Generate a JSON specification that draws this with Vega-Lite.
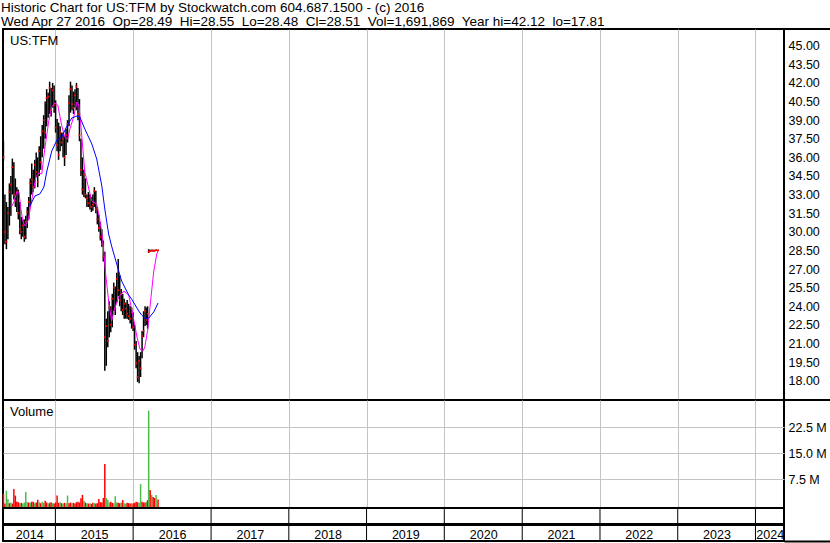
{
  "$schema": "https://vega.github.io/schema/vega-lite/v6.json",
  "background": "white",
  "padding": {"left": 1, "top": 1, "right": 1, "bottom": 1},
  "title": {
    "text": ["Historic Chart for US:TFM by Stockwatch.com 604.687.1500 - (c) 2016", "Wed Apr 27 2016\u00a0 Op=28.49\u00a0 Hi=28.55\u00a0 Lo=28.48\u00a0 Cl=28.51\u00a0 Vol=1,691,869\u00a0 Year hi=42.12\u00a0 lo=17.81"],
    "anchor": "start", "frame": "bounds", "font": "Liberation Sans", "fontSize": 13.5, "fontWeight": "normal", "lineHeight": 13.5, "color": "black", "offset": 0
  },
  "datasets": {
    "bars": [
      {"d":"2014-05-02","h":37.3,"l":35.7,"c":36.0,"v":3.3,"dir":"down"},
      {"d":"2014-05-09","h":33.0,"l":29.0,"c":30.0,"v":0.5,"dir":"down"},
      {"d":"2014-05-16","h":32.4,"l":28.6,"c":29.2,"v":4.2,"dir":"up"},
      {"d":"2014-05-23","h":32.0,"l":29.4,"c":31.5,"v":1.8,"dir":"up"},
      {"d":"2014-05-30","h":33.9,"l":30.5,"c":33.2,"v":0.6,"dir":"down"},
      {"d":"2014-06-06","h":34.5,"l":31.3,"c":33.8,"v":0.8,"dir":"up"},
      {"d":"2014-06-13","h":35.9,"l":33.0,"c":35.2,"v":0.5,"dir":"down"},
      {"d":"2014-06-20","h":35.6,"l":32.6,"c":33.0,"v":4.7,"dir":"down"},
      {"d":"2014-06-27","h":34.3,"l":32.0,"c":32.5,"v":2.8,"dir":"down"},
      {"d":"2014-07-04","h":33.6,"l":31.6,"c":33.2,"v":1.0,"dir":"down"},
      {"d":"2014-07-11","h":33.4,"l":31.0,"c":31.5,"v":0.9,"dir":"down"},
      {"d":"2014-07-18","h":32.4,"l":29.8,"c":30.2,"v":0.6,"dir":"up"},
      {"d":"2014-07-25","h":31.2,"l":29.4,"c":30.0,"v":0.7,"dir":"down"},
      {"d":"2014-08-01","h":31.0,"l":29.6,"c":30.5,"v":0.5,"dir":"up"},
      {"d":"2014-08-08","h":31.0,"l":29.2,"c":29.6,"v":0.8,"dir":"up"},
      {"d":"2014-08-15","h":31.3,"l":29.4,"c":30.8,"v":3.8,"dir":"up"},
      {"d":"2014-08-22","h":32.0,"l":30.3,"c":31.6,"v":0.9,"dir":"up"},
      {"d":"2014-08-29","h":32.8,"l":31.0,"c":32.4,"v":0.8,"dir":"down"},
      {"d":"2014-09-05","h":34.3,"l":32.0,"c":33.9,"v":0.7,"dir":"up"},
      {"d":"2014-09-12","h":35.5,"l":33.0,"c":34.2,"v":1.0,"dir":"down"},
      {"d":"2014-09-19","h":35.0,"l":33.2,"c":33.6,"v":1.0,"dir":"down"},
      {"d":"2014-09-26","h":35.8,"l":33.5,"c":35.4,"v":0.6,"dir":"up"},
      {"d":"2014-10-03","h":36.4,"l":34.4,"c":34.8,"v":0.8,"dir":"down"},
      {"d":"2014-10-10","h":36.0,"l":33.6,"c":34.0,"v":1.6,"dir":"down"},
      {"d":"2014-10-17","h":36.9,"l":34.5,"c":36.5,"v":0.9,"dir":"up"},
      {"d":"2014-10-24","h":37.7,"l":35.0,"c":35.6,"v":0.6,"dir":"down"},
      {"d":"2014-10-31","h":38.6,"l":36.0,"c":38.1,"v":1.0,"dir":"up"},
      {"d":"2014-11-07","h":39.4,"l":36.7,"c":39.0,"v":0.7,"dir":"up"},
      {"d":"2014-11-14","h":40.5,"l":37.5,"c":38.0,"v":1.3,"dir":"down"},
      {"d":"2014-11-21","h":41.5,"l":38.5,"c":40.8,"v":0.8,"dir":"down"},
      {"d":"2014-11-28","h":41.2,"l":39.2,"c":40.9,"v":0.5,"dir":"up"},
      {"d":"2014-12-05","h":42.1,"l":39.5,"c":41.6,"v":0.7,"dir":"down"},
      {"d":"2014-12-12","h":41.6,"l":39.3,"c":39.8,"v":0.9,"dir":"down"},
      {"d":"2014-12-19","h":42.0,"l":40.0,"c":41.4,"v":0.6,"dir":"up"},
      {"d":"2014-12-26","h":41.8,"l":39.6,"c":40.2,"v":0.5,"dir":"down"},
      {"d":"2015-01-02","h":40.6,"l":38.0,"c":38.4,"v":0.8,"dir":"down"},
      {"d":"2015-01-09","h":39.1,"l":36.5,"c":37.0,"v":2.8,"dir":"down"},
      {"d":"2015-01-16","h":38.8,"l":35.8,"c":36.2,"v":0.7,"dir":"down"},
      {"d":"2015-01-23","h":38.5,"l":36.5,"c":38.0,"v":0.9,"dir":"up"},
      {"d":"2015-01-30","h":38.0,"l":36.9,"c":37.2,"v":0.6,"dir":"down"},
      {"d":"2015-02-06","h":38.0,"l":36.0,"c":37.5,"v":0.5,"dir":"up"},
      {"d":"2015-02-13","h":37.7,"l":35.3,"c":36.0,"v":0.7,"dir":"down"},
      {"d":"2015-02-20","h":38.3,"l":36.2,"c":37.8,"v":0.6,"dir":"up"},
      {"d":"2015-02-27","h":39.0,"l":37.2,"c":38.7,"v":2.8,"dir":"up"},
      {"d":"2015-03-06","h":41.0,"l":38.5,"c":40.4,"v":0.6,"dir":"down"},
      {"d":"2015-03-13","h":42.1,"l":39.6,"c":41.5,"v":0.8,"dir":"down"},
      {"d":"2015-03-20","h":41.8,"l":39.8,"c":40.3,"v":0.6,"dir":"up"},
      {"d":"2015-03-27","h":41.3,"l":39.5,"c":40.0,"v":0.7,"dir":"down"},
      {"d":"2015-04-03","h":41.5,"l":40.0,"c":41.0,"v":0.5,"dir":"down"},
      {"d":"2015-04-10","h":42.0,"l":39.8,"c":41.7,"v":0.9,"dir":"down"},
      {"d":"2015-04-17","h":41.6,"l":39.0,"c":39.5,"v":1.0,"dir":"down"},
      {"d":"2015-04-24","h":40.7,"l":37.3,"c":37.8,"v":0.8,"dir":"down"},
      {"d":"2015-05-01","h":37.5,"l":34.5,"c":35.0,"v":2.0,"dir":"down"},
      {"d":"2015-05-08","h":36.0,"l":33.0,"c":33.4,"v":3.0,"dir":"down"},
      {"d":"2015-05-15","h":35.0,"l":32.8,"c":34.6,"v":1.3,"dir":"up"},
      {"d":"2015-05-22","h":34.3,"l":32.7,"c":33.0,"v":0.8,"dir":"down"},
      {"d":"2015-05-29","h":33.0,"l":32.0,"c":32.7,"v":0.6,"dir":"up"},
      {"d":"2015-06-05","h":33.2,"l":32.0,"c":32.3,"v":0.5,"dir":"down"},
      {"d":"2015-06-12","h":33.0,"l":31.8,"c":32.8,"v":0.6,"dir":"up"},
      {"d":"2015-06-19","h":32.8,"l":31.6,"c":32.0,"v":0.4,"dir":"down"},
      {"d":"2015-06-26","h":33.0,"l":31.7,"c":32.2,"v":0.7,"dir":"down"},
      {"d":"2015-07-03","h":33.6,"l":32.0,"c":33.3,"v":0.6,"dir":"up"},
      {"d":"2015-07-10","h":33.3,"l":31.5,"c":31.8,"v":0.5,"dir":"down"},
      {"d":"2015-07-17","h":32.0,"l":30.6,"c":31.0,"v":0.6,"dir":"down"},
      {"d":"2015-07-24","h":31.4,"l":30.0,"c":30.3,"v":1.8,"dir":"down"},
      {"d":"2015-07-31","h":30.8,"l":29.3,"c":29.6,"v":0.9,"dir":"down"},
      {"d":"2015-08-07","h":30.2,"l":28.8,"c":29.0,"v":0.8,"dir":"down"},
      {"d":"2015-08-14","h":29.3,"l":27.6,"c":28.0,"v":2.1,"dir":"down"},
      {"d":"2015-08-21","h":28.4,"l":18.8,"c":21.5,"v":11.9,"dir":"down"},
      {"d":"2015-08-28","h":23.0,"l":19.2,"c":22.4,"v":2.1,"dir":"up"},
      {"d":"2015-09-04","h":23.6,"l":20.7,"c":21.2,"v":1.5,"dir":"up"},
      {"d":"2015-09-11","h":24.4,"l":21.5,"c":23.9,"v":0.8,"dir":"up"},
      {"d":"2015-09-18","h":24.0,"l":21.9,"c":22.5,"v":1.0,"dir":"down"},
      {"d":"2015-09-25","h":25.0,"l":22.3,"c":24.6,"v":0.7,"dir":"down"},
      {"d":"2015-10-02","h":25.9,"l":23.6,"c":25.5,"v":0.6,"dir":"up"},
      {"d":"2015-10-09","h":25.6,"l":23.3,"c":23.8,"v":2.6,"dir":"up"},
      {"d":"2015-10-16","h":26.7,"l":24.3,"c":26.2,"v":0.8,"dir":"up"},
      {"d":"2015-10-23","h":27.8,"l":24.8,"c":25.3,"v":0.7,"dir":"down"},
      {"d":"2015-10-30","h":26.5,"l":24.0,"c":24.5,"v":0.6,"dir":"down"},
      {"d":"2015-11-06","h":25.4,"l":23.6,"c":25.0,"v":0.8,"dir":"up"},
      {"d":"2015-11-13","h":25.0,"l":23.3,"c":23.7,"v":1.5,"dir":"down"},
      {"d":"2015-11-20","h":24.6,"l":23.0,"c":24.2,"v":0.6,"dir":"up"},
      {"d":"2015-11-27","h":24.3,"l":23.0,"c":23.8,"v":0.5,"dir":"up"},
      {"d":"2015-12-04","h":24.5,"l":23.0,"c":23.4,"v":0.7,"dir":"down"},
      {"d":"2015-12-11","h":24.2,"l":22.9,"c":23.2,"v":0.6,"dir":"down"},
      {"d":"2015-12-18","h":24.0,"l":22.6,"c":23.0,"v":0.5,"dir":"down"},
      {"d":"2015-12-25","h":23.9,"l":22.2,"c":23.5,"v":0.6,"dir":"up"},
      {"d":"2016-01-01","h":23.5,"l":22.0,"c":22.3,"v":0.5,"dir":"down"},
      {"d":"2016-01-08","h":22.5,"l":20.5,"c":20.9,"v":0.7,"dir":"down"},
      {"d":"2016-01-15","h":21.2,"l":19.0,"c":19.4,"v":1.0,"dir":"down"},
      {"d":"2016-01-22","h":20.3,"l":17.9,"c":18.3,"v":0.9,"dir":"down"},
      {"d":"2016-01-29","h":20.0,"l":17.8,"c":19.6,"v":0.7,"dir":"up"},
      {"d":"2016-02-05","h":20.3,"l":18.3,"c":19.0,"v":6.1,"dir":"up"},
      {"d":"2016-02-12","h":22.0,"l":19.8,"c":21.6,"v":1.0,"dir":"down"},
      {"d":"2016-02-19","h":23.6,"l":21.5,"c":22.0,"v":0.8,"dir":"down"},
      {"d":"2016-02-26","h":24.0,"l":22.4,"c":23.6,"v":0.8,"dir":"down"},
      {"d":"2016-03-04","h":23.9,"l":22.5,"c":22.9,"v":1.0,"dir":"up"},
      {"d":"2016-03-09","h":24.0,"l":22.2,"c":23.4,"v":1.5,"dir":"down"},
      {"d":"2016-03-14","h":28.6,"l":28.3,"c":28.4,"v":27.3,"dir":"up"},
      {"d":"2016-03-21","h":28.55,"l":28.40,"c":28.45,"v":4.4,"dir":"down"},
      {"d":"2016-03-28","h":28.55,"l":28.42,"c":28.50,"v":3.0,"dir":"up"},
      {"d":"2016-04-04","h":28.56,"l":28.42,"c":28.48,"v":2.4,"dir":"down"},
      {"d":"2016-04-11","h":28.55,"l":28.43,"c":28.47,"v":2.1,"dir":"down"},
      {"d":"2016-04-18","h":28.56,"l":28.45,"c":28.52,"v":3.0,"dir":"up"},
      {"d":"2016-04-27","h":28.55,"l":28.48,"c":28.51,"v":1.7,"dir":"down"}
    ],
    "ma1": [
      {"d":"2014-06-11","p":32.08},{"d":"2014-06-20","p":32.40},{"d":"2014-07-04","p":33.21},{"d":"2014-07-14","p":33.21},
      {"d":"2014-07-23","p":31.84},{"d":"2014-08-01","p":30.87},{"d":"2014-08-11","p":30.47},{"d":"2014-08-25","p":30.87},
      {"d":"2014-09-03","p":31.68},{"d":"2014-09-17","p":33.05},{"d":"2014-10-01","p":34.42},{"d":"2014-10-15","p":34.74},
      {"d":"2014-10-29","p":34.66},{"d":"2014-11-12","p":36.67},{"d":"2014-12-01","p":38.93},{"d":"2014-12-15","p":40.06},
      {"d":"2014-12-29","p":40.38},{"d":"2015-01-12","p":40.22},{"d":"2015-01-31","p":38.53},{"d":"2015-02-14","p":37.64},
      {"d":"2015-02-28","p":37.48},{"d":"2015-03-10","p":38.29},{"d":"2015-03-29","p":39.33},{"d":"2015-04-12","p":40.46},
      {"d":"2015-04-21","p":40.22},{"d":"2015-04-30","p":38.69},{"d":"2015-05-10","p":36.67},{"d":"2015-05-19","p":34.82},
      {"d":"2015-06-07","p":33.45},{"d":"2015-06-21","p":32.48},{"d":"2015-07-14","p":32.24},{"d":"2015-07-28","p":31.03},
      {"d":"2015-08-11","p":29.42},{"d":"2015-08-25","p":26.60},{"d":"2015-09-08","p":24.42},{"d":"2015-09-22","p":22.81},
      {"d":"2015-10-06","p":23.78},{"d":"2015-10-25","p":24.75},{"d":"2015-11-18","p":25.23},{"d":"2015-12-11","p":24.91},
      {"d":"2015-12-30","p":23.38},{"d":"2016-01-19","p":21.52},{"d":"2016-02-02","p":20.55},{"d":"2016-02-16","p":20.39},
      {"d":"2016-02-25","p":20.72},{"d":"2016-03-10","p":22.17},{"d":"2016-03-24","p":24.58},{"d":"2016-04-07","p":26.84},
      {"d":"2016-04-21","p":28.21},{"d":"2016-04-27","p":28.45}
    ],
    "ma2": [
      {"d":"2014-09-03","p":32.08},{"d":"2014-09-27","p":32.89},{"d":"2014-10-20","p":33.05},{"d":"2014-11-08","p":33.61},
      {"d":"2014-11-22","p":34.90},{"d":"2014-12-15","p":36.51},{"d":"2015-01-08","p":37.40},{"d":"2015-01-31","p":37.64},
      {"d":"2015-02-24","p":38.53},{"d":"2015-03-19","p":39.17},{"d":"2015-04-12","p":39.33},{"d":"2015-04-26","p":39.25},
      {"d":"2015-05-19","p":38.29},{"d":"2015-06-21","p":37.08},{"d":"2015-07-14","p":35.87},{"d":"2015-08-07","p":33.69},
      {"d":"2015-08-21","p":31.84},{"d":"2015-09-08","p":29.82},{"d":"2015-09-22","p":28.85},{"d":"2015-10-16","p":27.40},
      {"d":"2015-11-08","p":26.03},{"d":"2015-12-11","p":24.91},{"d":"2015-12-25","p":24.58},{"d":"2016-01-08","p":24.18},
      {"d":"2016-01-27","p":23.62},{"d":"2016-02-10","p":23.29},{"d":"2016-02-29","p":22.97},{"d":"2016-03-14","p":23.05},
      {"d":"2016-04-07","p":23.54},{"d":"2016-04-27","p":24.26}
    ],
    "years": [
      {"d":"2015-01-01"},{"d":"2016-01-01"},{"d":"2017-01-01"},{"d":"2018-01-01"},{"d":"2019-01-01"},
      {"d":"2020-01-01"},{"d":"2021-01-01"},{"d":"2022-01-01"},{"d":"2023-01-01"},{"d":"2024-01-01"}
    ]
  },
  "columns": 2,
  "spacing": {"row": 0, "column": 0},
  "bounds": "flush",
  "concat": [
    {
      "width": 781, "height": 371,
      "title": {"text": "US:TFM", "anchor": "start", "frame": "group", "offset": -19, "dx": 7, "fontSize": 13, "fontWeight": "normal", "font": "Liberation Sans", "color": "black"},
      "encoding": {
        "x": {"field": "d", "type": "temporal",
          "scale": {"type": "utc", "padding": 0, "domain": [{"year":2014,"month":4,"date":30,"utc":true},{"year":2024,"month":5,"date":14,"utc":true}]},
          "axis": {"values": [{"year":2015,"utc":true},{"year":2016,"utc":true},{"year":2017,"utc":true},{"year":2018,"utc":true},{"year":2019,"utc":true},{"year":2020,"utc":true},{"year":2021,"utc":true},{"year":2022,"utc":true},{"year":2023,"utc":true},{"year":2024,"utc":true}],
            "grid": true, "labels": false, "ticks": false, "domain": false, "title": null, "gridColor": "#c4c4c4", "gridWidth": 1}}
      },
      "layer": [
        {"data": {"name": "bars"}, "mark": {"type": "rule", "color": "black", "strokeWidth": 1.5},
         "encoding": {
           "y": {"field": "l", "type": "quantitative", "scale": {"domain": [16.444, 46.346], "nice": false, "zero": false},
             "axis": {"values": [18,19.5,21,22.5,24,25.5,27,28.5,30,31.5,33,34.5,36,37.5,39,40.5,42,43.5,45], "grid": true, "labels": false, "ticks": false, "domain": false, "title": null, "gridColor": "#c4c4c4", "gridWidth": 1}},
           "y2": {"field": "h"}}},
        {"data": {"name": "bars"}, "mark": {"type": "square", "color": "#ff0000", "size": 3, "opacity": 1},
         "encoding": {"y": {"field": "c", "type": "quantitative", "scale": {"domain": [16.444, 46.346], "nice": false, "zero": false}, "axis": null}}},
        {"data": {"name": "ma1"}, "mark": {"type": "line", "color": "#ff00ff", "strokeWidth": 1},
         "encoding": {"y": {"field": "p", "type": "quantitative", "scale": {"domain": [16.444, 46.346], "nice": false, "zero": false}, "axis": null}}},
        {"data": {"name": "ma2"}, "mark": {"type": "line", "color": "#0000ff", "strokeWidth": 1},
         "encoding": {"y": {"field": "p", "type": "quantitative", "scale": {"domain": [16.444, 46.346], "nice": false, "zero": false}, "axis": null}}}
      ]
    },
    {
      "width": 47, "height": 371,
      "data": {"name": "bars"},
      "mark": {"type": "point", "opacity": 0},
      "encoding": {
        "y": {"field": "c", "type": "quantitative", "scale": {"domain": [16.444, 46.346], "nice": false, "zero": false},
          "axis": {"orient": "left", "values": [18,19.5,21,22.5,24,25.5,27,28.5,30,31.5,33,34.5,36,37.5,39,40.5,42,43.5,45], "format": ".2f",
            "labelAlign": "left", "labelPadding": -4, "ticks": false, "domain": false, "grid": false, "title": null,
            "labelFontSize": 12.5, "labelColor": "black", "labelFont": "Liberation Sans", "labelOverlap": false, "labelFlush": false, "labelBaseline": "middle"}}
      }
    },
    {
      "width": 781, "height": 108,
      "title": {"text": "Volume", "anchor": "start", "frame": "group", "offset": -19, "dx": 7, "fontSize": 13, "fontWeight": "normal", "font": "Liberation Sans", "color": "black"},
      "data": {"name": "bars"},
      "mark": {"type": "bar", "width": 1.5},
      "encoding": {
        "x": {"field": "d", "type": "temporal",
          "scale": {"type": "utc", "padding": 0, "domain": [{"year":2014,"month":4,"date":30,"utc":true},{"year":2024,"month":5,"date":14,"utc":true}]},
          "axis": {"values": [{"year":2015,"utc":true},{"year":2016,"utc":true},{"year":2017,"utc":true},{"year":2018,"utc":true},{"year":2019,"utc":true},{"year":2020,"utc":true},{"year":2021,"utc":true},{"year":2022,"utc":true},{"year":2023,"utc":true},{"year":2024,"utc":true}],
            "grid": true, "labels": false, "ticks": false, "domain": false, "title": null, "gridColor": "#c4c4c4", "gridWidth": 1}},
        "y": {"field": "v", "type": "quantitative", "scale": {"domain": [-0.78, 30.37], "nice": false, "zero": false},
          "axis": {"values": [7.5, 15, 22.5], "grid": true, "labels": false, "ticks": false, "domain": false, "title": null, "gridColor": "#c4c4c4", "gridWidth": 1}},
        "y2": {"datum": -0.78},
        "color": {"field": "dir", "type": "nominal", "scale": {"domain": ["up", "down"], "range": ["#4cbb4c", "#ff0000"]}, "legend": null}
      }
    },
    {
      "width": 47, "height": 108,
      "view": {"stroke": null},
      "data": {"name": "bars"},
      "mark": {"type": "point", "opacity": 0},
      "encoding": {
        "y": {"field": "v", "type": "quantitative", "scale": {"domain": [-0.78, 30.37], "nice": false, "zero": false},
          "axis": {"orient": "right", "values": [7.5, 15, 22.5], "labelExpr": "format(datum.value, '.1f') + ' M'",
            "labelAlign": "left", "labelPadding": -43, "ticks": false, "domain": true, "domainColor": "black", "domainWidth": 2, "grid": false, "title": null,
            "labelFontSize": 12.5, "labelColor": "black", "labelFont": "Liberation Sans", "labelOverlap": false, "labelFlush": false, "labelBaseline": "middle"}}
      }
    },
    {
      "width": 781, "height": 33,
      "layer": [
        {"data": {"name": "years"},
         "mark": {"type": "rule", "color": "black", "strokeWidth": 1},
         "encoding": {
           "x": {"field": "d", "type": "temporal",
             "scale": {"type": "utc", "padding": 0, "domain": [{"year":2014,"month":4,"date":30,"utc":true},{"year":2024,"month":5,"date":14,"utc":true}]},
             "axis": {"values": [{"year":2014,"month":8,"date":31,"utc":true},{"year":2015,"month":7,"date":2,"utc":true},{"year":2016,"month":7,"date":2,"utc":true},{"year":2017,"month":7,"date":2,"utc":true},{"year":2018,"month":7,"date":2,"utc":true},{"year":2019,"month":7,"date":2,"utc":true},{"year":2020,"month":7,"date":2,"utc":true},{"year":2021,"month":7,"date":2,"utc":true},{"year":2022,"month":7,"date":2,"utc":true},{"year":2023,"month":7,"date":2,"utc":true},{"year":2024,"month":3,"date":8,"utc":true}],
               "labelExpr": "utcFormat(datum.value, '%Y')", "grid": false, "ticks": false, "domain": false, "title": null,
               "labelPadding": -7, "labelBaseline": "middle", "labelAlign": "center", "labelFontSize": 12.5, "labelColor": "black", "labelFont": "Liberation Sans", "labelOverlap": false, "labelFlush": false}}
         }},
        {"data": {"name": "years"},
         "mark": {"type": "rule", "color": "black", "strokeWidth": 2},
         "encoding": {"y": {"datum": 1, "type": "quantitative", "scale": {"domain": [0, 2], "nice": false}, "axis": null}}}
      ]
    },
    {
      "width": 47, "height": 33,
      "view": {"stroke": null},
      "data": {"name": "years"},
      "mark": {"type": "point", "opacity": 0},
      "encoding": {
        "x": {"datum": 0, "type": "quantitative", "scale": {"domain": [0, 1]},
          "axis": {"orient": "bottom", "domain": true, "domainColor": "black", "domainWidth": 2, "labels": false, "ticks": false, "grid": false, "title": null}},
        "y": {"datum": 0, "type": "quantitative", "scale": {"domain": [0, 1]},
          "axis": {"orient": "right", "domain": true, "domainColor": "black", "domainWidth": 2, "labels": false, "ticks": false, "grid": false, "title": null}}
      }
    }
  ],
  "config": {
    "font": "Liberation Sans",
    "view": {"stroke": "black", "strokeWidth": 2},
    "axis": {"gridOpacity": 1}
  }
}
